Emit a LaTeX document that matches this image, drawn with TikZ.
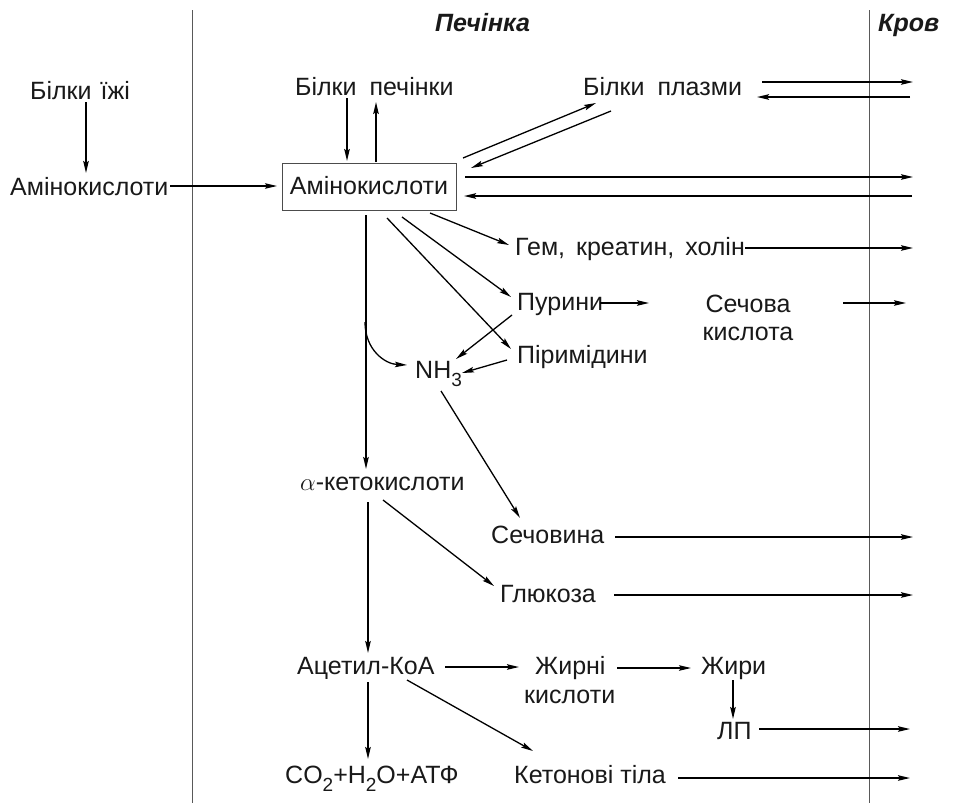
\documentclass[tikz,border=0pt]{standalone}
\usepackage{fontspec}
\setmainfont{Liberation Sans}
\usetikzlibrary{arrows.meta}
\newcommand\mysub[1]{\raisebox{-0.32em}{\fontsize{19}{20}\selectfont #1}}
\begin{document}
\begin{tikzpicture}[x=1pt,y=-1pt,
  txt/.style={inner sep=0pt, font=\fontsize{25}{28}\selectfont, text=black!90},
  hdr/.style={inner sep=0pt, font=\fontsize{25}{28}\selectfont\bfseries\itshape, text=black!90},
  arr/.style={line width=1.7pt, -{Stealth[length=12pt,width=5.5pt,inset=2pt]}},
  arrt/.style={line width=1.3pt, -{Stealth[length=12pt,width=5.5pt,inset=2pt]}},
  sep/.style={line width=1pt, draw=black!65},
  boxst/.style={draw=black!70, line width=1pt, inner sep=0pt, minimum width=174pt, minimum height=47pt}
]
\fill[white] (0,0) rectangle (958,803);
\useasboundingbox (0,0) rectangle (958,803);

% separators
\coordinate (s1t) at (192,10); \coordinate (s1b) at (192,803);
\coordinate (s2t) at (869,10); \coordinate (s2b) at (869,803);
\draw[sep] (s1t) -- (s1b);
\draw[sep] (s2t) -- (s2b);

% headers
\node[hdr, anchor=base west] (pech) at (435,31) {Печінка};
\node[hdr, anchor=base west] (krov) at (878,31) {Кров};

% nodes
\node[txt, anchor=base west] (bilkiji) at (30,99) {Білки\hspace{2pt} їжі};
\node[txt, anchor=base west] (amino1) at (10,195) {Амінокислоти};
\node[boxst] (box) at (369,186.5) {};
\node[txt, anchor=base] (boxt) at (369,194) {Амінокислоти};
\node[txt, anchor=base west] (bpech) at (295,95) {Білки\hspace{6pt} печінки};
\node[txt, anchor=base west] (bplaz) at (583,95) {Білки\hspace{6pt} плазми};
\node[txt, anchor=base west] (gem) at (515,255) {Гем,\hspace{4pt} креатин,\hspace{4pt} холін};
\node[txt, anchor=base west] (purin) at (517,310) {Пурини};
\node[txt, anchor=base west] (pirim) at (517,363) {Піримідини};
\node[txt, anchor=base] (secova1) at (748,312) {Сечова};
\node[txt, anchor=base] (secova2) at (748,340) {кислота};
\node[txt, anchor=base west] (nh3) at (415,378) {NH\mysub{3}};
\node[txt, anchor=base west] (keto) at (300,490) {$\alpha$-кетокислоти};
\node[txt, anchor=base west] (secovina) at (491,543) {Сечовина};
\node[txt, anchor=base west] (glukoza) at (500,602) {Глюкоза};
\node[txt, anchor=base west] (acetyl) at (297,674) {Ацетил-КоА};
\node[txt, anchor=base west] (zhirni) at (535,674) {Жирні};
\node[txt, anchor=base west] (kisl) at (524,703) {кислоти};
\node[txt, anchor=base west] (zhiry) at (701,674) {Жири};
\node[txt, anchor=base west] (lp) at (717,739) {ЛП};
\node[txt, anchor=base west] (co2) at (285,783) {CO\mysub{2}+H\mysub{2}O+АТФ};
\node[txt, anchor=base west] (keton) at (514,783) {Кетонові тіла};

% connector end points
\coordinate (a1s) at (86,102);  \coordinate (a1e) at (86,173);
\coordinate (a2s) at (170,186); \coordinate (a2e) at (277,186);
\coordinate (a3s) at (347,98);  \coordinate (a3e) at (347,161);
\coordinate (a4s) at (376,162); \coordinate (a4e) at (376,102);
\coordinate (a5s) at (463,158); \coordinate (a5e) at (596,103);
\coordinate (a6s) at (611,111); \coordinate (a6e) at (471,168);
\coordinate (a7s) at (762,82);  \coordinate (a7e) at (913,82);
\coordinate (a8s) at (910,97);  \coordinate (a8e) at (757,97);
\coordinate (a9s) at (465,177); \coordinate (a9e) at (913,177);
\coordinate (a10s) at (912,196); \coordinate (a10e) at (464,196);
\coordinate (a11s) at (430,213); \coordinate (a11e) at (509,245);
\coordinate (a12s) at (745,248); \coordinate (a12e) at (913,248);
\coordinate (a13s) at (402,217); \coordinate (a13e) at (511,297);
\coordinate (a14s) at (387,218); \coordinate (a14e) at (511,349);
\coordinate (a15s) at (600,303); \coordinate (a15e) at (649,303);
\coordinate (a16s) at (843,303); \coordinate (a16e) at (906,303);
\coordinate (a17s) at (512,315); \coordinate (a17e) at (456,359);
\coordinate (a18s) at (507,360); \coordinate (a18e) at (462,373);
\coordinate (a19s) at (365,322); \coordinate (a19e) at (407,365);
\coordinate (a20s) at (366,215); \coordinate (a20e) at (366,469);
\coordinate (a21s) at (441,391); \coordinate (a21e) at (520,518);
\coordinate (a22s) at (615,537); \coordinate (a22e) at (913,537);
\coordinate (a23s) at (383,500); \coordinate (a23e) at (494,586);
\coordinate (a24s) at (614,595); \coordinate (a24e) at (913,595);
\coordinate (a25s) at (368,502); \coordinate (a25e) at (368,653);
\coordinate (a26s) at (445,667); \coordinate (a26e) at (519,667);
\coordinate (a27s) at (617,668); \coordinate (a27e) at (691,668);
\coordinate (a28s) at (733,680); \coordinate (a28e) at (733,719);
\coordinate (a29s) at (759,729); \coordinate (a29e) at (910,729);
\coordinate (a30s) at (368,682); \coordinate (a30e) at (368,759);
\coordinate (a31s) at (407,680); \coordinate (a31e) at (533,751);
\coordinate (a32s) at (678,778); \coordinate (a32e) at (910,778);

% connectors
\draw[arr] (a1s) -- (a1e);
\draw[arrt] (a2s) -- (a2e);
\draw[arr] (a3s) -- (a3e);
\draw[arr] (a4s) -- (a4e);
\draw[arrt] (a5s) -- (a5e);
\draw[arrt] (a6s) -- (a6e);
\draw[arr] (a7s) -- (a7e);
\draw[arr] (a8s) -- (a8e);
\draw[arr] (a9s) -- (a9e);
\draw[arr] (a10s) -- (a10e);
\draw[arrt] (a11s) -- (a11e);
\draw[arr] (a12s) -- (a12e);
\draw[arrt] (a13s) -- (a13e);
\draw[arrt] (a14s) -- (a14e);
\draw[arr] (a15s) -- (a15e);
\draw[arr] (a16s) -- (a16e);
\draw[arrt] (a17s) -- (a17e);
\draw[arrt] (a18s) -- (a18e);
\draw[arrt] (a19s) .. controls (365,350) and (385,364) .. (a19e);
\draw[arr] (a20s) -- (a20e);
\draw[arrt] (a21s) -- (a21e);
\draw[arr] (a22s) -- (a22e);
\draw[arrt] (a23s) -- (a23e);
\draw[arr] (a24s) -- (a24e);
\draw[arr] (a25s) -- (a25e);
\draw[arr] (a26s) -- (a26e);
\draw[arrt] (a27s) -- (a27e);
\draw[arr] (a28s) -- (a28e);
\draw[arr] (a29s) -- (a29e);
\draw[arr] (a30s) -- (a30e);
\draw[arrt] (a31s) -- (a31e);
\draw[arr] (a32s) -- (a32e);
\end{tikzpicture}
\end{document}
